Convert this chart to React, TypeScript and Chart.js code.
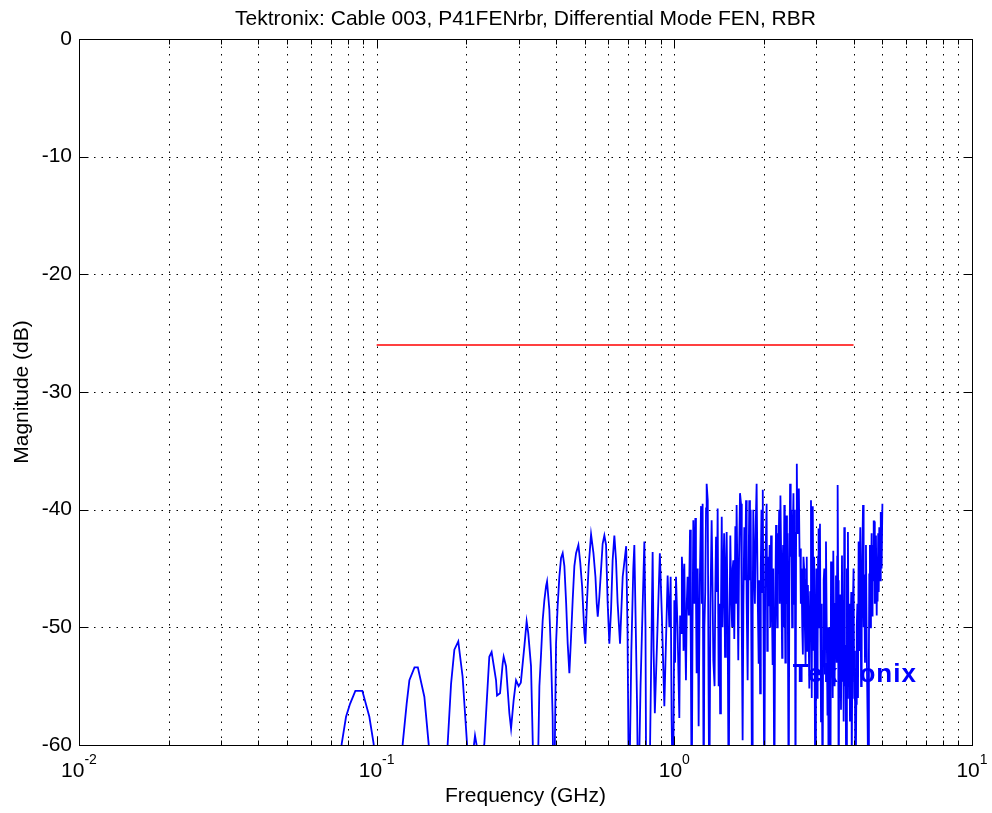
import React, { useEffect, useRef } from 'react';
import Chart from 'chart.js/auto';

const chartTitle = 'Tektronix: Cable 003, P41FENrbr, Differential Mode FEN, RBR';
const xAxisTitle = 'Frequency (GHz)';
const yAxisTitle = 'Magnitude (dB)';
const watermarkText = 'Tektronix';
const watermarkFreq = 2.5;
const watermarkDb = -54;

const xMajorTicks = [0.01, 0.1, 1, 10];
const xMajorExponents = ['-2', '-1', '0', '1'];
const xMinorMultipliers = [2, 3, 4, 5, 6, 7, 8, 9];
const yTicks = [0, -10, -20, -30, -40, -50, -60];

const limitFreq = [0.1, 4.0];
const limitDb = [-26, -26];

// [frequency GHz, magnitude dB] (values below -60 run off the axis)
const traceLow: [number, number][] = [
  [0.0740, -66], [0.0763, -59.9], [0.0789, -57.6], [0.0814, -56.5], [0.0848, -55.4], [0.0895, -55.4], [0.0945, -57.6], [0.0977, -59.9], [0.1000, -66],
  [0.1200, -66], [0.1223, -59.9], [0.1261, -56.5], [0.1288, -54.5], [0.1340, -53.4], [0.1375, -53.4], [0.1446, -55.9], [0.1495, -59.9], [0.1520, -66],
  [0.1700, -66], [0.1732, -59.9], [0.1778, -54.8], [0.1824, -51.9], [0.1880, -51.2], [0.1944, -54.2], [0.2012, -59.9], [0.2040, -66],
  [0.2100, -61], [0.2140, -59.2], [0.2180, -60.4], [0.2250, -61],
  [0.2300, -59.9], [0.2390, -52.5], [0.2433, -52.1], [0.2518, -54.5], [0.2537, -55.8], [0.2597, -55.6], [0.2650, -53.1], [0.2671, -52.5], [0.2720, -53.3], [0.2791, -57.3], [0.2828, -58.6], [0.2885, -56.2], [0.2939, -54.5], [0.2999, -55.0],
  [0.3050, -54.7], [0.3135, -51.6], [0.3190, -49.5], [0.3230, -50.5], [0.3300, -53.3], [0.3330, -57.6], [0.3387, -66],
  [0.3460, -66], [0.3521, -55.0], [0.3568, -52.2], [0.3612, -49.4], [0.3659, -47.7], [0.3707, -46.5], [0.3736, -46.1], [0.3803, -48.5], [0.3854, -52.5], [0.3901, -57.6], [0.3931, -66],
  [0.3960, -62], [0.4005, -51.4], [0.4055, -48.2], [0.4109, -45.7], [0.4163, -44.1], [0.4216, -43.7], [0.4272, -44.8], [0.4330, -47.9], [0.4383, -51.4], [0.4440, -53.9],
  [0.4499, -50.8], [0.4555, -47.7], [0.4615, -44.8], [0.4676, -43.7], [0.4761, -43.0], [0.4830, -44.5], [0.4899, -46.5], [0.4986, -50.5], [0.5025, -51.4], [0.5091, -47.7], [0.5155, -44.8], [0.5251, -42.1],
  [0.5349, -43.7], [0.5432, -45.7], [0.5487, -48.0], [0.5530, -49.1], [0.5599, -47.4], [0.5673, -45.1], [0.5743, -42.9], [0.5820, -42.2], [0.5897, -43.0], [0.5970, -47.9], [0.6049, -51.4], [0.6130, -48.5], [0.6205, -44.3], [0.6288, -42.2], [0.6370, -44.3], [0.6448, -47.9], [0.6570, -51.4], [0.6707, -45.7], [0.6890, -43.1],
  [0.6960, -50], [0.7043, -66], [0.7171, -52], [0.7280, -45], [0.7339, -43.0], [0.7420, -50], [0.7500, -57], [0.7560, -66],
  [0.7700, -55], [0.7930, -42.7], [0.8000, -50], [0.8050, -66], [0.8250, -64], [0.8455, -43.6], [0.8520, -52], [0.8600, -57.3],
  [0.8940, -43.7], [0.9080, -49], [0.9256, -56.7], [0.9496, -45.6], [0.9621, -50], [0.9720, -45.7], [0.9793, -57.9], [0.9900, -66],
];

const traceMid: [number, number][] = [
  [1.0000, -47.7], [1.0060, -53], [1.0130, -45.7], [1.0250, -50], [1.0394, -57.7], [1.0460, -49], [1.0530, -50.5], [1.0600, -44], [1.0660, -45.3], [1.0740, -52],
  [1.0804, -44.6], [1.0870, -50], [1.0940, -54.5], [1.1010, -48], [1.1080, -45.7], [1.1180, -49], [1.1290, -41.7], [1.1360, -52], [1.1440, -66], [1.1510, -50],
  [1.1582, -40.9], [1.1680, -48], [1.1764, -40.7], [1.1820, -47], [1.1883, -53.9], [1.1980, -45], [1.2068, -58.4], [1.2180, -46], [1.2294, -39.7], [1.2370, -48],
  [1.2447, -39.5], [1.2545, -66], [1.2620, -50], [1.2700, -47], [1.2780, -39.9], [1.2840, -37.8], [1.2950, -39.2], [1.3030, -55], [1.3108, -66], [1.3220, -48],
  [1.3346, -40.9], [1.3430, -46], [1.3520, -52.8], [1.3650, -55], [1.3730, -47], [1.3807, -42.3], [1.3900, -47], [1.3981, -39.9], [1.4090, -55.0], [1.4170, -48],
  [1.4250, -57.3], [1.4340, -49], [1.4430, -40.6], [1.4520, -50], [1.4600, -46], [1.4700, -42], [1.4800, -52.5], [1.4900, -45], [1.4990, -41.9], [1.5100, -49],
  [1.5230, -66], [1.5320, -50], [1.5420, -42.2], [1.5520, -47], [1.5630, -49.9], [1.5700, -45], [1.5780, -44.3], [1.5900, -51], [1.6030, -41.4], [1.6100, -48],
  [1.6190, -39.6], [1.6300, -46], [1.6400, -52.8], [1.6500, -44], [1.6620, -38.6], [1.6750, -39.5], [1.6850, -50], [1.6960, -59.6], [1.7060, -48], [1.7180, -41.5],
  [1.7300, -46], [1.7410, -39.2], [1.7500, -48], [1.7630, -54.5], [1.7740, -46], [1.7860, -39.2], [1.7950, -46], [1.8050, -40.0], [1.8150, -52], [1.8240, -66],
  [1.8330, -49], [1.8420, -40.0], [1.8550, -45], [1.8650, -48], [1.8780, -41], [1.8900, -37.8], [1.9050, -47], [1.9200, -53.1], [1.9300, -46], [1.9420, -55.6],
  [1.9520, -45], [1.9620, -40.0], [1.9720, -47], [1.9820, -38.3], [1.9930, -50],
];

const traceHigh: [number, number][] = [
  [2.0057, -66], [2.0200, -45], [2.0420, -39.5], [2.0520, -52], [2.0600, -44], [2.0750, -48.2], [2.0900, -43], [2.1000, -50], [2.1130, -42.2], [2.1250, -47],
  [2.1390, -53.2], [2.1500, -45], [2.1669, -66], [2.1800, -50], [2.1960, -41.3], [2.2050, -46], [2.2150, -50], [2.2250, -42], [2.2350, -45], [2.2500, -40],
  [2.2600, -48], [2.2720, -38.8], [2.2850, -44], [2.3020, -52.6], [2.3100, -45], [2.3200, -43], [2.3300, -50], [2.3411, -39.6], [2.3500, -46], [2.3600, -53],
  [2.3700, -44], [2.3780, -40.5], [2.3900, -48], [2.4000, -42], [2.4220, -66], [2.4350, -45], [2.4480, -37.8], [2.4600, -44], [2.4700, -40], [2.4870, -50],
  [2.5000, -42], [2.5130, -38.6], [2.5250, -48], [2.5400, -40], [2.5530, -66], [2.5650, -42], [2.5790, -36.1], [2.5900, -42], [2.6000, -39], [2.6200, -38.2],
  [2.6350, -44], [2.6490, -43.3], [2.6600, -48], [2.6750, -45], [2.6900, -50], [2.7030, -52.3], [2.7150, -44], [2.7300, -45], [2.7450, -50], [2.7600, -53.2],
  [2.7720, -46], [2.7850, -44], [2.7980, -52], [2.8100, -46.4], [2.8250, -50], [2.8404, -55.2], [2.8600, -47], [2.8780, -39.2], [2.8870, -48], [2.8950, -56],
  [2.9050, -45], [2.9180, -39.7], [2.9350, -52], [2.9500, -44], [2.9760, -66], [2.9900, -50], [3.0000, -45], [3.0150, -56], [3.0300, -52], [3.0400, -44],
  [3.0520, -41.6], [3.0650, -50], [3.0850, -41.2], [3.0950, -49], [3.1100, -58], [3.1250, -48], [3.1480, -66], [3.1600, -52], [3.1750, -46], [3.1900, -45],
  [3.2050, -54], [3.2200, -47], [3.2320, -42.7], [3.2500, -50], [3.2700, -57.5], [3.2850, -50], [3.2980, -66], [3.3150, -55], [3.3300, -50], [3.3450, -66],
  [3.3600, -44.4], [3.3750, -52], [3.3900, -48.5], [3.4050, -56], [3.4200, -43.5], [3.4400, -50], [3.4550, -55], [3.4700, -48], [3.4920, -45.6], [3.5100, -53],
  [3.5250, -44], [3.5370, -37.9], [3.5500, -46], [3.5650, -66], [3.5800, -52], [3.5950, -56], [3.6100, -47.2], [3.6300, -57], [3.6580, -43.9], [3.6750, -54],
  [3.6900, -49], [3.7050, -58], [3.7233, -41.5], [3.7400, -55], [3.7610, -51.5], [3.7800, -66], [3.8000, -45], [3.8150, -56], [3.8300, -41.9], [3.8500, -53],
  [3.8700, -48], [3.8910, -58.0], [3.9100, -50], [3.9300, -47], [3.9450, -62], [3.9600, -54], [3.9800, -48], [4.0000, -45], [4.0200, -56], [4.0400, -52],
  [4.0600, -66], [4.0850, -56.5], [4.1000, -50], [4.1200, -48], [4.1400, -56], [4.1600, -42.7], [4.1750, -50], [4.1900, -52], [4.2000, -45], [4.2140, -41.5],
  [4.2400, -55], [4.2600, -50], [4.2800, -44], [4.3040, -39.6], [4.3250, -50], [4.3460, -45.5], [4.3700, -53], [4.3850, -46], [4.4030, -43], [4.4300, -52],
  [4.4600, -58.0], [4.4900, -66], [4.5050, -52], [4.5174, -45.5], [4.5400, -43], [4.5600, -50], [4.5770, -47], [4.6000, -42], [4.6150, -49], [4.6340, -43],
  [4.6550, -46], [4.6750, -41], [4.6955, -41.0], [4.7100, -46], [4.7200, -48], [4.7400, -43], [4.7570, -42.2], [4.7850, -49], [4.8000, -44], [4.8180, -47.8],
  [4.8400, -42], [4.8600, -47], [4.8806, -41.5], [4.9100, -46], [4.9300, -42], [4.9450, -40.2], [4.9700, -45], [5.0000, -39.5],
];

const FONT = '"Liberation Sans", Arial, Helvetica, sans-serif';

export default function App() {
  const canvasRef = useRef<HTMLCanvasElement>(null);

  useEffect(() => {
    document.body.style.margin = '0';
    const canvas = canvasRef.current;
    if (!canvas) return;

    const minorValues: number[] = [];
    for (let i = 0; i < xMajorTicks.length - 1; i++) {
      for (const m of xMinorMultipliers) minorValues.push(xMajorTicks[i] * m);
    }
    const traceSamples = [...traceLow, ...traceMid, ...traceHigh];

    const matlabAxes = {
      id: 'matlabAxes',
      beforeDatasetsDraw(chart: any) {
        const { ctx, chartArea: a, scales } = chart;
        const x = scales.x;
        const y = scales.y;
        ctx.save();
        ctx.strokeStyle = '#000';
        ctx.lineWidth = 1;
        ctx.setLineDash([1.5, 6]);
        const gridX = [...xMajorTicks.slice(1, -1), ...minorValues];
        for (const v of gridX) {
          const px = Math.round(x.getPixelForValue(v)) + 0.5;
          ctx.beginPath();
          ctx.moveTo(px, a.top);
          ctx.lineTo(px, a.bottom);
          ctx.stroke();
        }
        for (const v of yTicks.slice(1, -1)) {
          const py = Math.round(y.getPixelForValue(v)) + 0.5;
          ctx.beginPath();
          ctx.moveTo(a.left, py);
          ctx.lineTo(a.right, py);
          ctx.stroke();
        }
        ctx.restore();
      },
      afterDatasetsDraw(chart: any) {
        const { ctx, chartArea: a, scales } = chart;
        const x = scales.x;
        const y = scales.y;
        ctx.save();
        // watermark text
        ctx.font = `bold 26px ${FONT}`;
        ctx.fillStyle = '#0000ff';
        ctx.textBaseline = 'middle';
        ctx.textAlign = 'left';
        (ctx as any).letterSpacing = '1px';
        ctx.fillText(watermarkText, x.getPixelForValue(watermarkFreq), y.getPixelForValue(watermarkDb));
        (ctx as any).letterSpacing = '0px';

        // box
        ctx.strokeStyle = '#000';
        ctx.lineWidth = 1;
        ctx.setLineDash([]);
        const L = Math.round(a.left) + 0.5;
        const R = Math.round(a.right) + 0.5;
        const T = Math.round(a.top) + 0.5;
        const B = Math.round(a.bottom) + 0.5;
        ctx.strokeRect(L, T, R - L, B - T);

        // tick marks
        ctx.beginPath();
        const tickX = (v: number, len: number) => {
          const px = Math.round(x.getPixelForValue(v)) + 0.5;
          ctx.moveTo(px, B);
          ctx.lineTo(px, B - len);
          ctx.moveTo(px, T);
          ctx.lineTo(px, T + len);
        };
        for (const v of xMajorTicks) tickX(v, 9);
        for (const v of minorValues) tickX(v, 5);
        for (const v of yTicks) {
          const py = Math.round(y.getPixelForValue(v)) + 0.5;
          ctx.moveTo(L, py);
          ctx.lineTo(L + 9, py);
          ctx.moveTo(R, py);
          ctx.lineTo(R - 9, py);
        }
        ctx.stroke();

        // x tick labels 10^n
        ctx.fillStyle = '#000';
        ctx.textBaseline = 'alphabetic';
        ctx.textAlign = 'left';
        xMajorTicks.forEach((v, i) => {
          const px = x.getPixelForValue(v);
          ctx.font = `21px ${FONT}`;
          const w1 = ctx.measureText('10').width;
          ctx.font = `14px ${FONT}`;
          const w2 = ctx.measureText(xMajorExponents[i]).width;
          const start = px - (w1 + w2) / 2;
          ctx.font = `21px ${FONT}`;
          ctx.fillText('10', start, 777);
          ctx.font = `14px ${FONT}`;
          ctx.fillText(xMajorExponents[i], start + w1, 764);
        });

        // titles
        const cx = (a.left + a.right) / 2;
        ctx.font = `21px ${FONT}`;
        ctx.textAlign = 'center';
        ctx.fillText(chartTitle, cx, 25);
        ctx.fillText(xAxisTitle, cx, 802);
        ctx.translate(28, (a.top + a.bottom) / 2);
        ctx.rotate(-Math.PI / 2);
        ctx.fillText(yAxisTitle, 0, 0);
        ctx.restore();
      },
    };

    const chart = new Chart(canvas, {
      type: 'line',
      data: {
        datasets: [
          {
            label: 'trace',
            data: traceSamples.map(([f, d]) => ({ x: f, y: d })),
            borderColor: '#0000ff',
            borderWidth: 1.8,
            pointRadius: 0,
            tension: 0,
            fill: false,
          },
          {
            label: 'limit',
            data: limitFreq.map((f, i) => ({ x: f, y: limitDb[i] })),
            borderColor: '#ff0000',
            borderWidth: 1.4,
            pointRadius: 0,
            fill: false,
          },
        ],
      },
      options: {
        responsive: false,
        animation: false,
        events: [],
        layout: { padding: { top: 39, right: 20, left: 0, bottom: 0 } },
        plugins: {
          legend: { display: false },
          title: { display: false },
          tooltip: { enabled: false },
        },
        scales: {
          x: {
            type: 'logarithmic',
            min: 0.01,
            max: 10,
            grid: { display: false, drawTicks: false },
            border: { display: false },
            ticks: { display: false },
            afterFit: (s: any) => {
              s.height = 68;
            },
          },
          y: {
            type: 'linear',
            min: -60,
            max: 0,
            grid: { display: false, drawTicks: false },
            border: { display: false },
            ticks: {
              color: '#000',
              padding: 7,
              font: { family: FONT, size: 21 },
              callback: (v: any) => String(v),
            },
            afterBuildTicks: (s: any) => {
              s.ticks = yTicks.map((v) => ({ value: v }));
            },
            afterFit: (s: any) => {
              s.width = 79;
            },
          },
        },
      },
      plugins: [matlabAxes],
    });

    return () => chart.destroy();
  }, []);

  return (
    <div style={{ width: 992, height: 813, background: '#fff' }}>
      <canvas ref={canvasRef} width={992} height={813} style={{ display: 'block' }} />
    </div>
  );
}
